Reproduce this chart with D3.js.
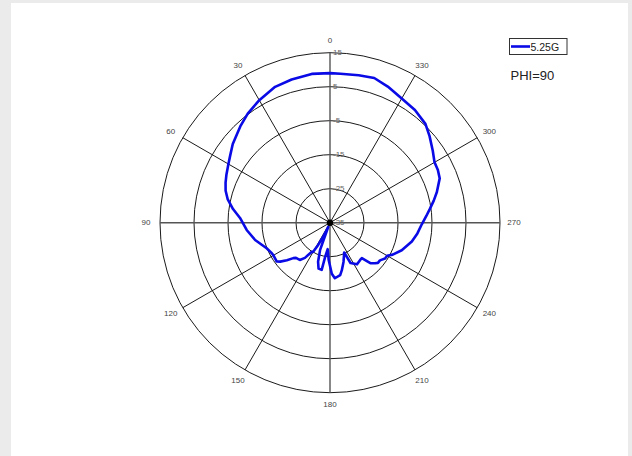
<!DOCTYPE html>
<html>
<head>
<meta charset="utf-8">
<script src="https://cdn.jsdelivr.net/npm/d3@7/dist/d3.min.js"></script>
<style>
    body { margin: 0; background: #ebebeb; }
    #viz { position: absolute; left: 0; top: 0; width: 632px; height: 456px; }
</style>
</head>
<body>
<div id="viz"></div>
<script>

// theta in degrees, counted anticlockwise from the top (0 up, 90 left)
const phiAngles = [0, 7, 15, 22, 30, 37, 43, 51, 56, 60, 65, 69, 73, 77, 82, 87, 95, 103, 112, 117, 120, 126,
    128, 131, 134, 136, 139, 141, 144.5, 148, 150, 152, 154, 157, 160, 163, 166, 170, 172, 175, 178,
    182, 185, 191, 194, 199, 205.5, 207, 213, 219, 222, 224, 225, 228, 230, 233, 237, 240, 243, 249,
    257, 263, 269, 274, 278, 282, 286, 292, 296, 300, 305, 311, 316, 323, 330, 337, 343, 349, 356, 360];

// gain (dBi), 5.25 GHz
const gain525 = [9.0, 9.1, 8.6, 8.1, 6.6, 5.2, 3.7, 1.8, 0.4, -0.5, -1.4, -2.1, -2.9, -4.1, -6.2, -8.5, -10.4, -12.4, -14.9, -15.6, -15.8, -15.6,
    -16.4, -18.2, -20.0, -20.6, -20.8, -20.9, -22.3, -24.9, -25.1, -27.6, -30.4, -33.7, -26.5, -23.0, -21.1, -20.9, -24.9, -27.2, -24.0,
    -20.0, -18.6, -19.3, -20.6, -22.8, -25.3, -21.7, -20.4, -20.9, -21.0, -19.2, -18.2, -17.2, -16.6, -16.6, -15.7, -15.6, -14.3, -12.4,
    -10.3, -9.1, -8.0, -6.6, -5.3, -3.8, -2.3, -0.2, 0.3, 0.5, 1.9, 3.8, 5.4, 6.5, 7.2, 8.5, 9.5, 9.2, 8.9, 9.0];

const ringValues = [-35, -25, -15, -5, 5, 15];
const spokeAngles = d3.range(0, 360, 30);
const seriesName = '5.25G';
const cutName = 'PHI=90';

const wd = 632, ht = 456;
const cx = 330, cy = 222.7, outerR = 170;

const svg = d3.select('#viz').append('svg')
    .attr('width', wd)
    .attr('height', ht);

svg.append('rect')
    .attr('x', 11).attr('y', 3)
    .attr('width', 617).attr('height', ht - 3)
    .attr('fill', '#fff');

const g = svg.append('g')
    .attr('transform', 'translate(' + cx + ',' + cy + ')');

const rScale = d3.scaleLinear().domain([-35, 15]).range([0, outerR]);
const toRad = a => -a * Math.PI / 180;

// rings
g.selectAll('.ring').data(ringValues.slice(1)).enter().append('circle')
    .attr('class', 'ring')
    .attr('r', d => rScale(d))
    .attr('fill', 'none')
    .attr('stroke', '#1a1a1a')
    .attr('stroke-width', 1);

// spokes
g.selectAll('.spoke').data(spokeAngles).enter().append('line')
    .attr('class', 'spoke')
    .attr('x1', 0).attr('y1', 0)
    .attr('x2', d => outerR * Math.sin(toRad(d)))
    .attr('y2', d => -outerR * Math.cos(toRad(d)))
    .attr('stroke', d => d % 90 === 0 ? '#555' : '#1a1a1a')
    .attr('stroke-width', d => d % 90 === 0 ? 1.4 : 1);

// angle labels
g.selectAll('.angLbl').data(spokeAngles).enter().append('text')
    .attr('class', 'angLbl')
    .attr('x', d => 184 * Math.sin(toRad(d)))
    .attr('y', d => -182 * Math.cos(toRad(d)))
    .attr('text-anchor', 'middle')
    .attr('dominant-baseline', 'central')
    .attr('font-family', 'Liberation Sans, Arial, sans-serif')
    .attr('font-size', 8)
    .attr('fill', '#444')
    .text(d => d);

// ring labels
g.selectAll('.ringLbl').data(ringValues).enter().append('text')
    .attr('class', 'ringLbl')
    .attr('x', 3)
    .attr('y', d => -rScale(d) + 2.5)
    .attr('font-family', 'Liberation Sans, Arial, sans-serif')
    .attr('font-size', 8)
    .attr('fill', '#666')
    .text(d => d);

// pattern
const pattern = phiAngles.map((a, i) => ({angle: a, gain: gain525[i]}));

const radial = d3.lineRadial()
    .angle(d => toRad(d.angle))
    .radius(d => rScale(d.gain));

g.append('path')
    .datum(pattern)
    .attr('d', radial)
    .attr('fill', 'none')
    .attr('stroke', '#0a0ae6')
    .attr('stroke-width', 2.6)
    .attr('stroke-linejoin', 'round');

g.append('circle')
    .attr('r', 3.2)
    .attr('fill', '#000');

// legend
const legend = svg.append('g');
legend.append('rect')
    .attr('x', 509.5).attr('y', 38.5)
    .attr('width', 57.5).attr('height', 16)
    .attr('fill', '#fff')
    .attr('stroke', '#333')
    .attr('stroke-width', 1);
legend.append('line')
    .attr('x1', 511).attr('x2', 530)
    .attr('y1', 46.5).attr('y2', 46.5)
    .attr('stroke', '#0a0ae6')
    .attr('stroke-width', 2.6);
legend.append('text')
    .attr('x', 530.5).attr('y', 50.5)
    .attr('font-family', 'Liberation Sans, Arial, sans-serif')
    .attr('font-size', 10.5)
    .attr('fill', '#222')
    .text(seriesName);

svg.append('text')
    .attr('x', 510.5).attr('y', 80)
    .attr('font-family', 'Liberation Sans, Arial, sans-serif')
    .attr('font-size', 13)
    .attr('fill', '#222')
    .text(cutName);

</script>
</body>
</html>
